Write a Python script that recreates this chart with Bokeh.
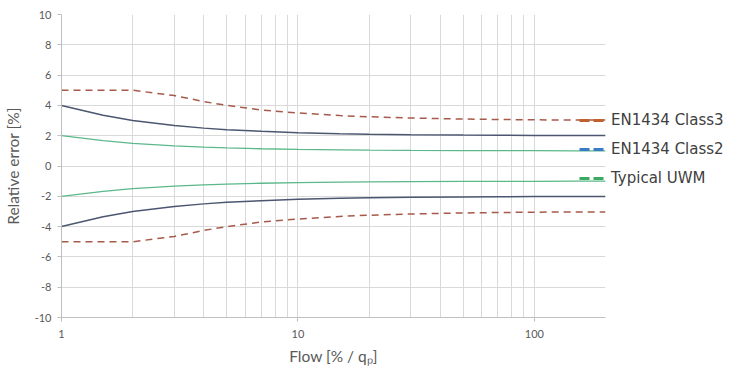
from bokeh.plotting import figure
from bokeh.models import FixedTicker, Range1d, Legend, LegendItem
from bokeh.embed import file_html
from bokeh.resources import INLINE

flow = [1, 1.5, 2, 3, 4, 5, 7, 10, 15, 20, 30, 50, 70, 100, 150, 200]
class3_up = [5, 5, 5, 4.65, 4.25, 4.0, 3.7, 3.5, 3.33, 3.25, 3.17, 3.1, 3.07, 3.05, 3.03, 3.03]
class3_low = [-5, -5, -5, -4.65, -4.25, -4.0, -3.7, -3.5, -3.33, -3.25, -3.17, -3.1, -3.07, -3.05, -3.03, -3.03]
class2_up = [4, 3.35, 3.0, 2.67, 2.5, 2.4, 2.29, 2.2, 2.13, 2.1, 2.07, 2.04, 2.03, 2.02, 2.01, 2.01]
class2_low = [-4, -3.35, -3.0, -2.67, -2.5, -2.4, -2.29, -2.2, -2.13, -2.1, -2.07, -2.04, -2.03, -2.02, -2.01, -2.01]
uwm_up = [2, 1.67, 1.5, 1.33, 1.25, 1.2, 1.14, 1.1, 1.07, 1.05, 1.03, 1.02, 1.01, 1.01, 1.0, 1.0]
uwm_low = [-2, -1.67, -1.5, -1.33, -1.25, -1.2, -1.14, -1.1, -1.07, -1.05, -1.03, -1.02, -1.01, -1.01, -1.0, -1.0]

x_major = [1, 10, 100]
x_minor = [2, 3, 4, 5, 6, 7, 8, 9, 20, 30, 40, 50, 60, 70, 80, 90, 200]
y_ticks = [-10, -8, -6, -4, -2, 0, 2, 4, 6, 8, 10]
y_labels = ["-10", "-8", "-6", "-4", "-2", "0", "2", "4", "6", "8", "10"]
legend_labels = ["EN1434 Class3", "EN1434 Class2", "Typical UWM"]

FONT = "Lato"
GRID = "#d9d9d9"
TEXT = "#595959"
NAN = float("nan")

p = figure(frame_width=544, frame_height=303, x_axis_type="log",
           x_range=Range1d(1, 200), y_range=Range1d(-10, 10),
           output_backend="svg", toolbar_location=None,
           min_border_left=56, min_border_right=10, min_border_top=14, min_border_bottom=10)
p.outline_line_color = None
p.background_fill_color = "white"

p.xaxis.ticker = FixedTicker(ticks=x_major, minor_ticks=x_minor)
p.yaxis.ticker = FixedTicker(ticks=y_ticks)
p.xaxis.major_label_overrides = {1: "1", 10: "10", 100: "100"}
p.yaxis.major_label_overrides = dict(zip(y_ticks, y_labels))
for ax in (p.xaxis[0], p.yaxis[0]):
    ax.axis_line_color = "#bfbfbf"
    ax.major_tick_line_color = "#bfbfbf"
    ax.major_tick_in = 0
    ax.major_tick_out = 4
    ax.minor_tick_line_color = None
    ax.major_label_text_font = FONT
    ax.major_label_text_font_size = "11px"
    ax.major_label_text_color = TEXT
    ax.axis_label_text_font = FONT
    ax.axis_label_text_font_size = "15.5px"
    ax.axis_label_text_font_style = "normal"
    ax.axis_label_text_color = TEXT
p.xaxis.axis_label = "Flow [% / q\u209a]"
p.yaxis.axis_label = "Relative error [%]"
p.xaxis.major_label_standoff = 8
p.xaxis.axis_label_standoff = 6
p.yaxis.major_label_standoff = 6
p.yaxis.axis_label_standoff = 10

p.xgrid.grid_line_color = GRID
p.xgrid.minor_grid_line_color = GRID
p.ygrid.grid_line_color = GRID

c3 = "#a65a4a"
c2 = "#4b5670"
cu = "#5bb88a"
for ys in (class3_up, class3_low):
    p.line(flow, ys, line_color=c3, line_width=1.5, line_dash="7 5")
for ys in (class2_up, class2_low):
    p.line(flow, ys, line_color=c2, line_width=1.5)
for ys in (uwm_up, uwm_low):
    p.line(flow, ys, line_color=cu, line_width=1.3)

# legend sample renderers (draw nothing in the plot)
r1 = p.line([NAN], [NAN], line_color="#c0602a", line_width=3, line_dash="10 4")
r2 = p.line([NAN], [NAN], line_color="#3a7bc8", line_width=3, line_dash="10 4")
r3 = p.line([NAN], [NAN], line_color="#3aaa60", line_width=3, line_dash="10 4")
legend = Legend(items=[LegendItem(label=legend_labels[0], renderers=[r1]),
                       LegendItem(label=legend_labels[1], renderers=[r2]),
                       LegendItem(label=legend_labels[2], renderers=[r3])],
                location=(-26, 129), orientation="vertical",
                glyph_width=26, glyph_height=20, label_height=20, spacing=9,
                label_standoff=6, padding=0, margin=0,
                background_fill_alpha=0, border_line_color=None,
                label_text_font="DejaVu Sans", label_text_font_size="15px",
                label_text_color="#404040")
p.add_layout(legend, "right")

open("out.html", "w").write(file_html(p, INLINE))
